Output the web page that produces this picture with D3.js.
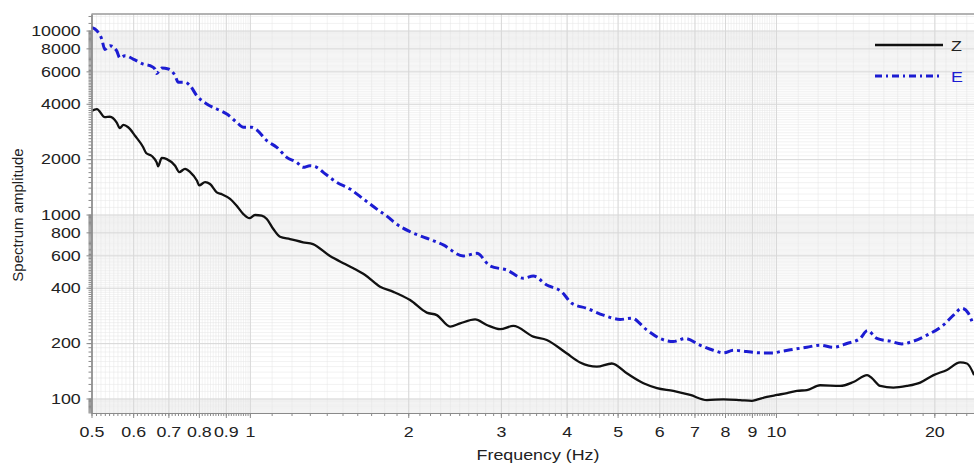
<!DOCTYPE html>
<html lang="en">
<head>
<meta charset="UTF-8">
<title>Spectrum</title>
<style>
  html, body { margin: 0; padding: 0; background: #fff; overflow: hidden; }
  text { font-family: "Liberation Sans", Arial, sans-serif; }
</style>
</head>
<body>
<script src="https://d3js.org/d3.v7.min.js"></script>
<div id="chart"></div>
<script>
// data
const freqZ = [0.50, 0.512, 0.53, 0.542, 0.558, 0.566, 0.575, 0.587, 0.605, 0.627, 0.635, 0.651, 0.665, 0.669, 0.680, 0.695,
  0.721, 0.734, 0.753, 0.770, 0.793, 0.801, 0.822, 0.840, 0.865, 0.884, 0.917, 0.944, 0.972, 0.998, 1.023, 1.053,
  1.077, 1.108, 1.141, 1.192, 1.262, 1.318, 1.42, 1.517, 1.573, 1.656, 1.768, 1.874, 2.016, 2.169, 2.266, 2.402,
  2.509, 2.68, 2.82, 2.99, 3.168, 3.458, 3.667, 4.0, 4.244, 4.566, 4.875, 5.206, 5.6, 5.94, 6.38, 6.87,
  7.39, 7.95, 8.55, 9.0, 9.2, 9.61, 10.04, 10.5, 10.96, 11.45, 12.13, 13.24, 14.04, 14.9, 15.22, 15.78,
  16.72, 17.74, 18.8, 19.93, 21.13, 22.39, 23.07, 23.8]
const ampZ = [3660, 3740, 3380, 3400, 3170, 2950, 3070, 2980, 2680, 2320, 2160, 2080, 1920, 1830, 2030, 2000,
  1840, 1700, 1770, 1700, 1530, 1440, 1500, 1465, 1320, 1290, 1215, 1115, 1005, 955, 994, 985,
  945, 834, 757, 736, 706, 690, 595, 538, 510, 469, 405, 380, 343, 293, 284, 246,
  256, 269, 251, 238, 248, 217, 208, 176, 157, 149, 155, 137, 121, 114, 110, 104.5,
  98, 99, 98, 97, 98.5, 102, 104.5, 107, 110, 111, 118, 117, 123, 134, 129, 117,
  114.5, 117, 122, 134, 143, 157, 155, 134]

const freqE = [0.50, 0.512, 0.523, 0.53, 0.542, 0.558, 0.566, 0.579, 0.6, 0.627, 0.646, 0.66, 0.665, 0.68, 0.70, 0.721,
  0.731, 0.753, 0.77, 0.793, 0.828, 0.865, 0.904, 0.944, 0.972, 1.008, 1.031, 1.077, 1.125, 1.175, 1.228, 1.262,
  1.301, 1.34, 1.379, 1.463, 1.55, 1.643, 1.743, 1.834, 1.874, 2.016, 2.169, 2.332, 2.545, 2.70, 2.861, 3.079,
  3.311, 3.458, 3.667, 3.916, 4.092, 4.369, 4.70, 5.055, 5.32, 5.68, 6.02, 6.38, 6.72, 7.17,
  7.6, 7.95, 8.3, 8.8, 9.33, 9.89, 10.19, 10.79, 11.45, 12.13, 12.86, 13.64, 14.45, 14.93,
  15.55, 16.48, 17.35, 18.25, 19.36, 20.82, 21.75, 22.56, 23.22, 23.7]
const ampE = [10400, 9980, 8990, 7900, 8270, 7770, 7100, 7300, 7000, 6575, 6440, 6180, 5850, 6250, 6180, 5680,
  5230, 5230, 5010, 4420, 3990, 3745, 3520, 3170, 2980, 2980, 2880, 2520, 2320, 2045, 1920, 1805,
  1840, 1805, 1695, 1495, 1375, 1215, 1070, 965, 914, 806, 743, 683, 595, 615, 525, 499,
  450, 463, 414, 380, 329, 309, 284, 269, 273, 236, 212, 204, 212, 195,
  183, 177, 183, 180, 177, 177, 180, 185, 190, 195, 190, 199, 212, 234,
  212, 205, 198, 205, 221, 251, 284, 309, 290, 251]

const xTickLabels = [0.5, 0.6, 0.7, 0.8, 0.9, 1, 2, 3, 4, 5, 6, 7, 8, 9, 10, 20]
const yTickLabels = [100, 200, 400, 600, 800, 1000, 2000, 4000, 6000, 8000, 10000]
const seriesNames = ["Z", "E"]

const W = 974, H = 464
const MARGIN = { LEFT: 91.5, RIGHT: 0, TOP: 14, BOTTOM: 51 }
const WIDTH = W - MARGIN.LEFT - MARGIN.RIGHT + 2
const HEIGHT = H - MARGIN.TOP - MARGIN.BOTTOM
const TEXT_SCALE = 1.19   // tick text in the picture is a bit wide

const svg = d3.select("#chart").append("svg")
    .attr("width", W)
    .attr("height", H)

const g = svg.append("g")
    .attr("transform", `translate(${MARGIN.LEFT},${MARGIN.TOP})`)

const x = d3.scaleLog().domain([0.5, 24]).range([0, WIDTH])
const y = d3.scaleLog().domain([83.4, 12300]).range([HEIGHT, 0])

// 90 minor steps per decade, like the original grid
const minorValues = (lo, hi) => {
    const out = []
    for (let e = -2; e <= 5; e++) {
        for (let k = 10; k < 100; k++) {
            const v = +(k * Math.pow(10, e - 1)).toPrecision(6)
            if (v >= lo && v <= hi) out.push(v)
        }
    }
    return out
}
const xMinor = minorValues(0.5, 24)
const yMinor = minorValues(83.4, 12300)

// grid
const gridStyle = (sel, color, w) => {
    sel.select(".domain").remove()
    sel.selectAll("line").attr("stroke", color).attr("stroke-width", w)
    sel.selectAll("text").remove()
}
g.append("g").attr("transform", `translate(0,${HEIGHT})`)
    .call(d3.axisBottom(x).tickValues(xMinor).tickSize(-HEIGHT).tickFormat(""))
    .call(s => gridStyle(s, "#e4e4e4", 0.5))
g.append("g")
    .call(d3.axisLeft(y).tickValues(yMinor).tickSize(-WIDTH).tickFormat(""))
    .call(s => gridStyle(s, "#e4e4e4", 0.5))
g.append("g").attr("transform", `translate(0,${HEIGHT})`)
    .call(d3.axisBottom(x).tickValues(xTickLabels).tickSize(-HEIGHT).tickFormat(""))
    .call(s => gridStyle(s, "#d8d8d8", 1))
g.append("g")
    .call(d3.axisLeft(y).tickValues(yTickLabels).tickSize(-WIDTH).tickFormat(""))
    .call(s => gridStyle(s, "#d8d8d8", 1))

// curves
svg.append("clipPath").attr("id", "plot-clip")
    .append("rect").attr("width", WIDTH).attr("height", HEIGHT)

const line = d3.line()
    .x(d => x(d[0]))
    .y(d => y(d[1]))
    .curve(d3.curveMonotoneX)

const plot = g.append("g").attr("clip-path", "url(#plot-clip)")

plot.append("path")
    .datum(freqE.map((f, i) => [f, ampE[i]]))
    .attr("d", line)
    .attr("fill", "none")
    .attr("stroke", "#1c1cd2")
    .attr("stroke-width", 3)
    .attr("stroke-dasharray", "9,4,3,4")

plot.append("path")
    .datum(freqZ.map((f, i) => [f, ampZ[i]]))
    .attr("d", line)
    .attr("fill", "none")
    .attr("stroke", "#111")
    .attr("stroke-width", 2.3)
    .attr("stroke-linejoin", "round")

// axes
const axisStyle = sel => {
    sel.select(".domain").attr("stroke", "#8a8a8a").attr("stroke-width", 1.2)
    sel.selectAll("line").attr("stroke", "#8a8a8a")
    sel.selectAll("text")
        .attr("fill", "#222")
        .style("font-size", "15px")
        .attr("transform", `scale(${TEXT_SCALE},1)`)
}

g.append("g").attr("transform", `translate(0,${HEIGHT})`)
    .call(d3.axisBottom(x).tickValues(xMinor).tickSize(3).tickFormat("").tickSizeOuter(0))
    .call(axisStyle)
g.append("g").attr("transform", `translate(0,${HEIGHT})`)
    .call(d3.axisBottom(x).tickValues(xTickLabels).tickSize(5).tickPadding(8).tickSizeOuter(0)
        .tickFormat(d => String(d)))
    .call(axisStyle)

g.append("g")
    .call(d3.axisLeft(y).tickValues(yMinor).tickSize(3).tickFormat("").tickSizeOuter(0))
    .call(axisStyle)
g.append("g")
    .call(d3.axisLeft(y).tickValues(yTickLabels).tickSize(5).tickPadding(4).tickSizeOuter(0)
        .tickFormat(d => String(d)))
    .call(axisStyle)

// top border
g.append("line")
    .attr("x1", 0).attr("x2", WIDTH)
    .attr("y1", 0).attr("y2", 0)
    .attr("stroke", "#9a9a9a").attr("stroke-width", 1.5)

// axis titles
svg.append("text")
    .attr("transform", `translate(538,460) scale(${TEXT_SCALE},1)`)
    .attr("text-anchor", "middle")
    .attr("fill", "#222")
    .style("font-size", "15px")
    .text("Frequency (Hz)")

svg.append("text")
    .attr("transform", "translate(23,215) rotate(-90)")
    .attr("text-anchor", "middle")
    .attr("fill", "#222")
    .style("font-size", "15px")
    .text("Spectrum amplitude")

// legend
const legend = svg.append("g")
const legendRows = [
    { name: seriesNames[0], color: "#111", dash: null, width: 2.3, text: "#222", y: 45 },
    { name: seriesNames[1], color: "#1c1cd2", dash: "7,4,2,4", width: 3, text: "#1c1cd2", y: 76 }
]
legendRows.forEach(r => {
    legend.append("line")
        .attr("x1", 875).attr("x2", 943)
        .attr("y1", r.y).attr("y2", r.y)
        .attr("stroke", r.color)
        .attr("stroke-width", r.width)
        .attr("stroke-dasharray", r.dash)
    legend.append("text")
        .attr("transform", `translate(951,${r.y + 5.5}) scale(${TEXT_SCALE},1)`)
        .attr("fill", r.text)
        .style("font-size", "15px")
        .text(r.name)
})
</script>
</body>
</html>
